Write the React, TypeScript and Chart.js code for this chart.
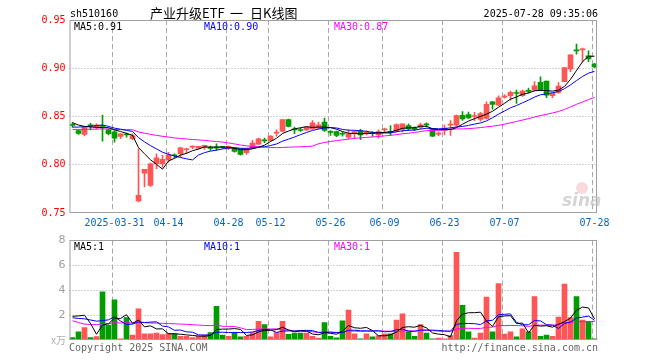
import React, { useEffect, useRef } from 'react';
import { Chart, registerables } from 'chart.js';
Chart.register(...registerables);

// ---------- data ----------
const dates = [
  '2025-03-20','2025-03-21','2025-03-24','2025-03-25','2025-03-26','2025-03-27','2025-03-28','2025-03-31',
  '2025-04-01','2025-04-02','2025-04-03','2025-04-07','2025-04-08','2025-04-09','2025-04-10','2025-04-11',
  '2025-04-14','2025-04-15','2025-04-16','2025-04-17','2025-04-18','2025-04-21','2025-04-22','2025-04-23','2025-04-24','2025-04-25','2025-04-28','2025-04-29','2025-04-30',
  '2025-05-06','2025-05-07','2025-05-08','2025-05-09','2025-05-12','2025-05-13','2025-05-14','2025-05-15','2025-05-16','2025-05-19','2025-05-20','2025-05-21','2025-05-22','2025-05-23','2025-05-26','2025-05-27','2025-05-28','2025-05-29','2025-05-30',
  '2025-06-03','2025-06-04','2025-06-05','2025-06-06','2025-06-09','2025-06-10','2025-06-11','2025-06-12','2025-06-13','2025-06-16','2025-06-17','2025-06-18','2025-06-19','2025-06-20','2025-06-23','2025-06-24','2025-06-25','2025-06-26','2025-06-27','2025-06-30',
  '2025-07-01','2025-07-02','2025-07-03','2025-07-04','2025-07-07','2025-07-08','2025-07-09','2025-07-10','2025-07-11','2025-07-14','2025-07-15','2025-07-16','2025-07-17','2025-07-18','2025-07-21','2025-07-22','2025-07-23','2025-07-24','2025-07-25','2025-07-28',
];

const tickDates = ['2025-03-31','2025-04-14','2025-04-28','2025-05-12','2025-05-26','2025-06-09','2025-06-23','2025-07-07','2025-07-28'];
const tickTexts = ['2025-03-31','04-14','04-28','05-12','05-26','06-09','06-23','07-07','07-28'];

const opens = [
  0.8412,0.8355,0.8314,0.8407,0.8390,0.8405,0.8362,0.8341,0.8293,0.8312,
  0.8269,0.7624,0.7914,0.7786,0.8010,0.8010,0.8052,0.8097,0.8114,0.8155,
  0.8183,0.8173,0.8180,0.8174,0.8176,0.8183,0.8166,0.8172,0.8166,0.8124,
  0.8172,0.8214,0.8252,0.8252,0.8328,0.8348,0.8469,0.8364,0.8356,0.8362,
  0.8372,0.8379,0.8441,0.8340,0.8345,0.8320,0.8286,0.8321,0.8352,0.8328,
  0.8328,0.8310,0.8362,0.8338,0.8345,0.8366,0.8407,0.8373,0.8386,0.8415,
  0.8366,0.8317,0.8355,0.8410,0.8410,0.8512,0.8520,0.8500,0.8469,0.8479,
  0.8653,0.8618,0.8701,0.8715,0.8740,0.8715,0.8764,0.8774,0.8854,0.8868,
  0.8715,0.8750,0.8861,0.8993,0.9185,0.9190,0.9128,0.9042,
];
const highs = [
  0.8438,0.8360,0.8390,0.8430,0.8424,0.8514,0.8372,0.8355,0.8322,0.8330,
  0.8320,0.8166,0.7952,0.8017,0.8114,0.8097,0.8130,0.8114,0.8183,0.8172,
  0.8193,0.8192,0.8200,0.8193,0.8217,0.8190,0.8195,0.8178,0.8170,0.8170,
  0.8252,0.8276,0.8276,0.8303,0.8362,0.8469,0.8472,0.8390,0.8380,0.8397,
  0.8459,0.8441,0.8483,0.8355,0.8350,0.8340,0.8362,0.8352,0.8366,0.8352,
  0.8345,0.8362,0.8379,0.8407,0.8424,0.8424,0.8424,0.8393,0.8431,0.8434,
  0.8372,0.8338,0.8410,0.8459,0.8514,0.8550,0.8545,0.8542,0.8542,0.8653,
  0.8656,0.8715,0.8726,0.8764,0.8774,0.8774,0.8795,0.8861,0.8910,0.8868,
  0.8742,0.8851,0.9007,0.9139,0.9250,0.9208,0.9180,0.9052,
];
const lows = [
  0.8390,0.8315,0.8300,0.8360,0.8370,0.8245,0.8310,0.8235,0.8270,0.8286,
  0.8260,0.7614,0.7769,0.7776,0.7959,0.7976,0.8028,0.8072,0.8080,0.8120,
  0.8166,0.8165,0.8159,0.8148,0.8148,0.8170,0.8160,0.8130,0.8100,0.8107,
  0.8166,0.8207,0.8228,0.8248,0.8297,0.8341,0.8392,0.8321,0.8345,0.8355,
  0.8366,0.8372,0.8345,0.8304,0.8290,0.8297,0.8269,0.8276,0.8259,0.8310,
  0.8293,0.8276,0.8331,0.8303,0.8340,0.8338,0.8355,0.8352,0.8372,0.8393,
  0.8290,0.8300,0.8310,0.8303,0.8397,0.8460,0.8480,0.8458,0.8451,0.8472,
  0.8576,0.8611,0.8691,0.8670,0.8635,0.8708,0.8745,0.8764,0.8764,0.8694,
  0.8694,0.8740,0.8861,0.8965,0.9146,0.9069,0.9069,0.9007,
];
const closes = [
  0.8408,0.8324,0.8390,0.8403,0.8410,0.8398,0.8321,0.8276,0.8320,0.8308,
  0.8303,0.7683,0.7952,0.8010,0.8072,0.8055,0.8103,0.8093,0.8176,0.8166,
  0.8190,0.8190,0.8200,0.8170,0.8172,0.8180,0.8190,0.8138,0.8107,0.8166,
  0.8224,0.8269,0.8248,0.8297,0.8335,0.8469,0.8397,0.8361,0.8355,0.8390,
  0.8434,0.8414,0.8355,0.8335,0.8303,0.8316,0.8321,0.8345,0.8310,0.8331,
  0.8324,0.8345,0.8366,0.8335,0.8417,0.8424,0.8372,0.8370,0.8414,0.8413,
  0.8297,0.8321,0.8380,0.8414,0.8510,0.8475,0.8486,0.8504,0.8531,0.8625,
  0.8625,0.8694,0.8705,0.8750,0.8738,0.8764,0.8760,0.8819,0.8774,0.8722,
  0.8740,0.8816,0.9007,0.9139,0.9180,0.9194,0.9097,0.9014,
];
// volume, in 万手
const volumes = [
  0.20,0.65,1.00,0.20,0.27,3.87,1.20,3.23,0.10,1.80,
  0.40,2.50,0.50,0.50,0.56,0.43,0.53,0.50,0.30,0.30,
  0.20,0.30,0.40,0.60,2.70,0.40,0.30,0.60,0.25,0.30,
  0.60,1.50,1.25,0.25,0.60,1.50,0.45,0.55,0.55,0.55,
  0.30,0.15,1.40,0.30,0.17,1.55,2.40,0.50,0.10,0.50,
  0.25,0.35,0.50,0.50,1.60,2.10,0.65,0.30,1.25,0.55,
  0.10,0.15,0.10,0.35,7.05,2.80,0.65,0.15,0.55,3.45,
  0.65,4.55,0.48,0.65,0.25,0.90,0.65,3.50,0.30,0.40,
  0.30,1.85,4.50,1.80,3.50,1.60,1.50,0.10,
];
// estimated sessions before the visible window (needed for the moving averages)
const priorCloses = [
  0.833,0.835,0.838,0.836,0.834,0.837,0.839,0.836,0.833,0.835,
  0.836,0.834,0.837,0.838,0.835,0.833,0.836,0.835,0.834,0.834,
  0.832,0.835,0.836,0.833,0.8357,0.845,0.846,0.843,0.8435,
];
const priorVolumes = [
  5.0,4.75,1.2,0.8,1.5,0.9,1.1,0.7,1.3,1.0,
  0.9,1.2,1.4,0.8,1.0,1.1,0.9,1.2,0.8,1.1,
  1.2,1.3,1.15,1.2,3.5,0.5,0.75,3.5,4.6,
];
const priceTicks = [0.75, 0.8, 0.85, 0.9, 0.95];
const volumeTicks = [0, 2, 4, 6, 8];

// ---------- styles ----------
const RED = '#ff5555';
const GREEN = '#009c00';
const MA_COLORS = ['#000000', '#0000ff', '#ff00ff'];
const GRID = '#a8a8a8';
const MONO = '"DejaVu Sans Mono", monospace';

function movingAvg(prior: number[], vals: number[], n: number) {
  const all = [...prior, ...vals];
  return vals.map((_, i) => {
    const end = prior.length + i;
    let s = 0;
    for (let k = end - n + 1; k <= end; k++) s += all[k];
    return s / n;
  });
}

const gridPlugin = (hLines: number[]) => ({
  id: 'sinaGrid',
  beforeDatasetsDraw(chart: any) {
    const { ctx, chartArea, scales } = chart;
    const { left, right, top, bottom } = chartArea;
    ctx.save();
    ctx.strokeStyle = GRID;
    ctx.lineWidth = 1;
    ctx.setLineDash([1, 2]);
    hLines.forEach((v) => {
      const py = Math.floor(scales.y.getPixelForValue(v)) + 0.5;
      ctx.beginPath();
      ctx.moveTo(left, py);
      ctx.lineTo(right, py);
      ctx.stroke();
    });
    ctx.setLineDash([5, 3]);
    tickDates.forEach((d) => {
      const idx = dates.indexOf(d);
      const px = Math.floor(scales.x.getPixelForValue(idx) - 2) + 0.5;
      ctx.beginPath();
      ctx.moveTo(px, top);
      ctx.lineTo(px, bottom);
      ctx.stroke();
    });
    ctx.restore();
  },
  afterDatasetsDraw(chart: any) {
    const { ctx, chartArea } = chart;
    ctx.save();
    ctx.strokeStyle = '#a0a0a0';
    ctx.lineWidth = 1;
    ctx.setLineDash([]);
    const l = Math.floor(chartArea.left) + 0.5 + 0.5;
    const t = Math.floor(chartArea.top) + 0.5;
    const r = Math.floor(chartArea.right) - 0.5;
    const b = Math.floor(chartArea.bottom) - 0.5;
    ctx.strokeRect(l, t, r - l, b - t);
    ctx.restore();
  },
});

export default function App() {
  const priceRef = useRef<HTMLCanvasElement>(null);
  const volRef = useRef<HTMLCanvasElement>(null);

  useEffect(() => {
    const ma5 = movingAvg(priorCloses, closes, 5);
    const ma10 = movingAvg(priorCloses, closes, 10);
    const ma30 = movingAvg(priorCloses, closes, 30);
    const vma5 = movingAvg(priorVolumes, volumes, 5);
    const vma10 = movingAvg(priorVolumes, volumes, 10);
    const vma30 = movingAvg(priorVolumes, volumes, 30);
    const candleColors = closes.map((c, i) => (c >= opens[i] ? RED : GREEN));
    const last = dates.length - 1;

    const lineDs = (data: number[], color: string) => ({
      type: 'line' as const,
      data,
      borderColor: color,
      borderWidth: 1,
      pointRadius: 0,
      fill: false,
      tension: 0,
      order: 0,
    });

    const priceTexts = {
      id: 'priceTexts',
      afterDraw(chart: any) {
        const ctx = chart.ctx;
        ctx.save();
        ctx.textBaseline = 'alphabetic';
        ctx.font = `10px ${MONO}`;
        ctx.fillStyle = '#000';
        ctx.textAlign = 'left';
        ctx.fillText('sh510160', 70, 17);
        ctx.textAlign = 'right';
        ctx.fillText('2025-07-28 09:35:06', 598, 17);
        ctx.textAlign = 'left';
        ctx.font = '13px "Noto Sans CJK SC", sans-serif';
        ctx.fillText('产业升级ETF', 150, 18);
        ctx.fillText('一', 230, 18);
        ctx.fillText('日K线图', 250, 18);
        ctx.font = `10px ${MONO}`;
        ctx.fillStyle = MA_COLORS[0];
        ctx.fillText(`MA5:${ma5[last].toFixed(2)}`, 74, 30);
        ctx.fillStyle = MA_COLORS[1];
        ctx.fillText(`MA10:${ma10[last].toFixed(2)}`, 204, 30);
        ctx.fillStyle = MA_COLORS[2];
        ctx.fillText(`MA30:${ma30[last].toFixed(2)}`, 334, 30);
        // sina watermark
        ctx.fillStyle = 'rgba(235,150,150,0.35)';
        ctx.beginPath();
        ctx.arc(582, 188, 6, 0, Math.PI * 2);
        ctx.fill();
        ctx.fillStyle = 'rgba(185,185,185,0.6)';
        ctx.font = 'italic bold 17px "DejaVu Sans", sans-serif';
        ctx.fillText('sina', 562, 206);
        ctx.restore();
      },
    };

    const volTexts = {
      id: 'volTexts',
      afterDraw(chart: any) {
        const ctx = chart.ctx;
        ctx.save();
        ctx.textBaseline = 'alphabetic';
        ctx.font = `10px ${MONO}`;
        ctx.textAlign = 'left';
        ctx.fillStyle = MA_COLORS[0];
        ctx.fillText(`MA5:${Math.floor(vma5[last])}`, 74, 20);
        ctx.fillStyle = MA_COLORS[1];
        ctx.fillText(`MA10:${Math.floor(vma10[last])}`, 204, 20);
        ctx.fillStyle = MA_COLORS[2];
        ctx.fillText(`MA30:${Math.floor(vma30[last])}`, 334, 20);
        ctx.fillStyle = '#666';
        ctx.fillText('Copyright 2025 SINA.COM', 69, 121);
        ctx.textAlign = 'right';
        ctx.fillText('http://finance.sina.com.cn', 598, 121);
        ctx.fillStyle = '#b0b0b0';
        ctx.font = '10px "Noto Sans CJK SC", sans-serif';
        ctx.fillText('x万', 66, 114);
        ctx.restore();
      },
    };

    const priceChart = new Chart(priceRef.current!, {
      type: 'bar',
      data: {
        labels: dates,
        datasets: [
          lineDs(ma5, MA_COLORS[0]),
          lineDs(ma10, MA_COLORS[1]),
          lineDs(ma30, MA_COLORS[2]),
          {
            type: 'bar',
            data: opens.map((o, i) => [Math.min(o, closes[i]), Math.max(o, closes[i])]),
            backgroundColor: candleColors,
            barThickness: 5,
            minBarLength: 1,
            grouped: false,
            order: 1,
          } as any,
          {
            type: 'bar',
            data: lows.map((l, i) => [l, highs[i]]),
            backgroundColor: candleColors,
            barThickness: 1,
            grouped: false,
            order: 2,
          } as any,
        ],
      },
      options: {
        responsive: false,
        animation: false,
        devicePixelRatio: 1,
        layout: { padding: { top: 20, right: 62.5, left: 0, bottom: 0 } },
        plugins: { legend: { display: false }, tooltip: { enabled: false }, title: { display: false } },
        scales: {
          x: {
            type: 'category',
            offset: true,
            grid: { display: false, drawTicks: false },
            border: { display: false },
            afterFit: (s: any) => { s.height = 19; },
            ticks: {
              autoSkip: false,
              maxRotation: 0,
              minRotation: 0,
              padding: 4,
              color: '#0066cc',
              font: { family: MONO, size: 10 },
              callback: (_v: any, idx: number) => {
                const k = tickDates.indexOf(dates[idx]);
                return k >= 0 ? tickTexts[k] : '';
              },
            },
          },
          y: {
            min: 0.75,
            max: 0.95,
            grid: { display: false, drawTicks: false },
            border: { display: false },
            afterFit: (s: any) => { s.width = 69.5; },
            afterBuildTicks: (s: any) => { s.ticks = priceTicks.map((v) => ({ value: v })); },
            ticks: {
              padding: 4,
              color: '#ff0000',
              font: { family: MONO, size: 10 },
              callback: (v: any) => Number(v).toFixed(2),
            },
          },
        },
      } as any,
      plugins: [gridPlugin([0.8, 0.85, 0.9]), priceTexts],
    });

    const volChart = new Chart(volRef.current!, {
      type: 'bar',
      data: {
        labels: dates,
        datasets: [
          lineDs(vma5, MA_COLORS[0]),
          lineDs(vma10, MA_COLORS[1]),
          lineDs(vma30, MA_COLORS[2]),
          {
            type: 'bar',
            data: volumes,
            backgroundColor: candleColors,
            barThickness: 5,
            grouped: false,
            order: 1,
          } as any,
        ],
      },
      options: {
        responsive: false,
        animation: false,
        devicePixelRatio: 1,
        layout: { padding: { top: 10, right: 62.5, left: 0, bottom: 0 } },
        plugins: { legend: { display: false }, tooltip: { enabled: false }, title: { display: false } },
        scales: {
          x: {
            type: 'category',
            offset: true,
            grid: { display: false, drawTicks: false },
            border: { display: false },
            ticks: { display: false },
            afterFit: (s: any) => { s.height = 20; },
          },
          y: {
            min: 0,
            max: 8,
            grid: { display: false, drawTicks: false },
            border: { display: false },
            afterFit: (s: any) => { s.width = 69.5; },
            afterBuildTicks: (s: any) => { s.ticks = volumeTicks.map((v) => ({ value: v })); },
            ticks: {
              padding: 4,
              color: '#a0a0a0',
              font: { family: '"DejaVu Sans", sans-serif', size: 11 },
              callback: (v: any) => (Number(v) === 0 ? '' : String(v)),
            },
          },
        },
      } as any,
      plugins: [gridPlugin([2, 4, 6]), volTexts],
    });

    return () => {
      priceChart.destroy();
      volChart.destroy();
    };
  }, []);

  return (
    <div style={{ position: 'fixed', left: 0, top: 0, width: 660, height: 360, background: '#fff' }}>
      <canvas ref={priceRef} width={660} height={232} style={{ position: 'absolute', left: 0, top: 0 }} />
      <canvas ref={volRef} width={660} height={130} style={{ position: 'absolute', left: 0, top: 230 }} />
    </div>
  );
}
